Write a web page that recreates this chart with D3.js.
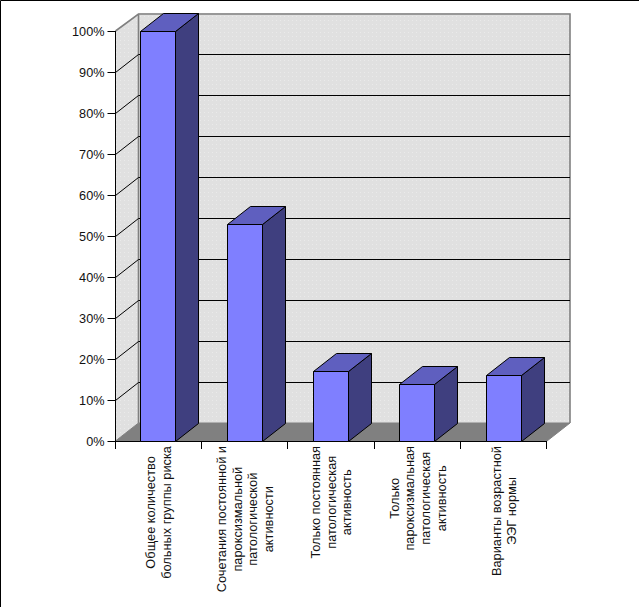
<!DOCTYPE html>
<html><head><meta charset="utf-8">
<script src="https://cdn.jsdelivr.net/npm/d3@7"></script>
<style>html,body{margin:0;padding:0;background:#fff}svg{display:block}text{font-family:"Liberation Sans",Arial,sans-serif;fill:#111}</style>
</head><body><div id="c"></div>
<script>
const categories = ["Общее количество|больных группы риска","Сочетания постоянной и|пароксизмальной|патологической|активности","Только постоянная|патологическая|активность","Только|пароксизмальная|патологическая|активность","Варианты возрастной|ЭЭГ нормы"];
const values = [100,53,17,14,16];
const tickValues = [0,10,20,30,40,50,60,70,80,90,100];

const W=639,H=607,dx=23,dy=-18;
const svg=d3.select("#c").append("svg").attr("width",W).attr("height",H);
const defs=svg.append("defs");
const pat=defs.append("pattern").attr("id","dots").attr("width",4).attr("height",4).attr("patternUnits","userSpaceOnUse");
pat.append("rect").attr("width",4).attr("height",4).attr("fill","#e0e0e0");
pat.append("rect").attr("width",1).attr("height",1).attr("fill","#eaeaea");

const pad=0.5944;
const x=d3.scaleBand().domain(categories).range([115.5,547]).paddingInner(pad).paddingOuter(pad/2);
const y=d3.scaleLinear().domain([0,100]).range([441,31]);
const x0=115.5,x1=547,y0=y(0),yT=y(100);
const poly=(pts)=>d3.line()(pts);

// walls
svg.append("path").attr("d",poly([[x0+dx,yT+dy],[x1+dx,yT+dy],[x1+dx,y0+dy],[x0+dx,y0+dy]])+"Z").attr("fill","url(#dots)");
svg.append("path").attr("d",poly([[x0,yT],[x0+dx,yT+dy],[x0+dx,y0+dy],[x0,y0]])+"Z").attr("fill","url(#dots)");
// floor
svg.append("path").attr("d",poly([[x0,y0],[x0+dx,y0+dy],[x1+dx,y0+dy],[x1,y0]])+"Z").attr("fill","#808080").attr("stroke","#808080");
// wall outlines
svg.append("path").attr("d",poly([[x0,yT],[x0+dx,yT+dy+1],[x1+dx,yT+dy+1],[x1+dx,y0+dy]])).attr("fill","none").attr("stroke","#808080").attr("stroke-width",1.6);
svg.append("path").attr("d",poly([[x0+dx,yT+dy+1],[x0+dx,y0+dy]])).attr("fill","none").attr("stroke","#808080").attr("stroke-width",1.6);
// gridlines
const grid=svg.append("g").attr("fill","none").attr("stroke","#000").attr("stroke-width",1);
tickValues.filter(t=>t>0&&t<100).forEach(t=>{
  const yy=Math.round(y(t))+.5;
  grid.append("path").attr("d",poly([[x0,yy],[x0+dx,yy+dy],[x1+dx,yy+dy]]));
});
// front axis
const axG=svg.append("g").attr("stroke","#000").attr("stroke-width",1);
axG.append("line").attr("x1",x0).attr("x2",x0).attr("y1",yT).attr("y2",y0);
axG.append("line").attr("x1",x0).attr("x2",x1).attr("y1",y0+.5).attr("y2",y0+.5).attr("stroke","#000");
tickValues.forEach(t=>{
  const yy=Math.round(y(t))+.5;
  axG.append("line").attr("x1",x0-8).attr("x2",x0).attr("y1",yy).attr("y2",yy);
  svg.append("text").attr("x",x0-11).attr("y",yy+4.5).attr("text-anchor","end").attr("font-size",12.7).text(t+"%");
});
const edges=[...categories.map(c=>x(c)-x.step()*pad/2),x1];
edges.forEach(e=>{const xx=Math.floor(e-.2)+.5;axG.append("line").attr("x1",xx).attr("x2",xx).attr("y1",y0).attr("y2",y0+8);});
// bars
const bars=svg.append("g").attr("stroke","#000").attr("stroke-width",1).attr("stroke-linejoin","round");
categories.forEach((c,i)=>{
  const l=Math.round(x(c)-.75)+.5,r=Math.round(x(c)+x.bandwidth()-.75)+.5,t=Math.round(y(values[i]))+.5,b=y0+.5;
  bars.append("path").attr("fill","#3f3f7f").attr("d",poly([[r,t],[r+dx,t+dy],[r+dx,b+dy],[r,b]])+"Z");
  bars.append("path").attr("fill","#5f5fbf").attr("d",poly([[l,t],[l+dx,t+dy],[r+dx,t+dy],[r,t]])+"Z");
  bars.append("rect").attr("fill","#7f7fff").attr("x",l).attr("y",t).attr("width",r-l).attr("height",b-t);
});
// category labels
categories.forEach((c,i)=>{
  const lines=c.split("|"),cx=(edges[i]+edges[i+1])/2,lh=15.7;
  const g=svg.append("g").attr("transform",`translate(${cx},${y0+8}) rotate(-90)`);
  lines.forEach((ln,j)=>{
    g.append("text").attr("x",0).attr("y",(j-(lines.length-1)/2)*lh+4.5).attr("text-anchor","middle").attr("font-size",12.8).text(ln);
  });
  let mw=0;g.selectAll("text").each(function(){mw=Math.max(mw,this.getComputedTextLength());});
  g.selectAll("text").attr("x",-mw/2+3);
});
// frame
svg.append("path").attr("d",`M0.5,${H}V0.5H${W}`).attr("fill","none").attr("stroke","#000").attr("stroke-width",1);
</script></body></html>
